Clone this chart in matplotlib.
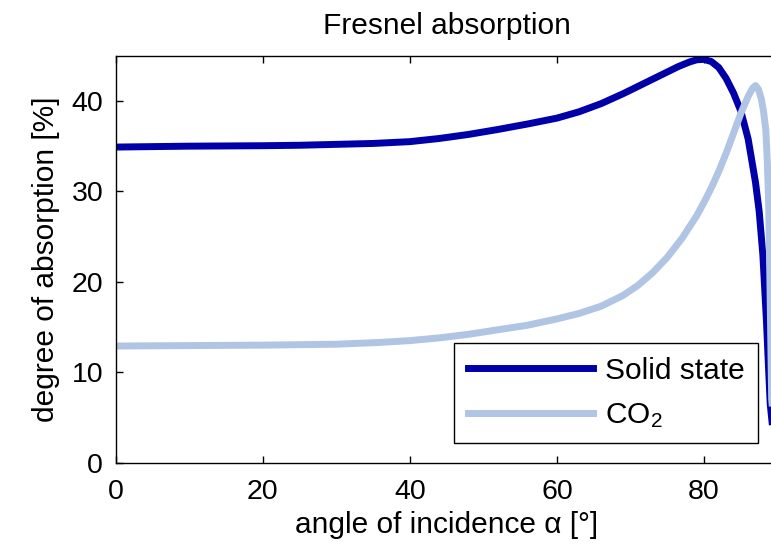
"""Fresnel absorption vs. angle of incidence for solid state and CO2 lasers."""

import matplotlib

matplotlib.use("Agg")  # headless
import matplotlib.pyplot as plt

plt.rcParams["font.family"] = ["Liberation Sans", "DejaVu Sans"]
plt.rcParams["mathtext.fontset"] = "custom"
plt.rcParams["mathtext.rm"] = "Liberation Sans"
plt.rcParams["mathtext.it"] = "Liberation Sans:italic"

# values
solid_angle = [0, 10, 20, 25, 30, 35, 40, 44, 48, 52, 56, 60, 63, 66, 69, 72, 74.5, 76.5,
               78, 79, 80, 81, 82, 83, 84, 85, 86, 87, 87.5, 88, 88.5, 88.8, 89, 89.5, 90]
solid_abs = [34.9, 35.0, 35.05, 35.1, 35.2, 35.3, 35.5, 35.85, 36.3, 36.85, 37.45, 38.1,
             38.8, 39.7, 40.8, 42.0, 43.0, 43.8, 44.3, 44.55, 44.6, 44.35, 43.7, 42.5,
             40.9, 38.9, 35.8, 31.0, 27.8, 23.0, 15.5, 10.0, 6.5, 2.5, 0.0]

co2_angle = [0, 20, 30, 36, 40, 44, 48, 52, 56, 60, 63, 66, 69, 71, 73, 75, 77, 79, 80,
             81, 82, 83, 84, 85, 86, 86.6, 87, 87.4, 87.8, 88.1, 88.4, 88.6, 88.8, 89,
             89.2, 90]
co2_abs = [12.9, 13.0, 13.1, 13.3, 13.5, 13.8, 14.2, 14.7, 15.2, 15.9, 16.5, 17.3, 18.5,
           19.6, 21.0, 22.7, 24.8, 27.3, 28.8, 30.4, 32.2, 34.2, 36.4, 38.6, 40.5, 41.4,
           41.7, 41.3, 40.2, 38.8, 36.8, 33.5, 28.5, 18.0, 7.0, 0.0]

x_ticks = [0, 20, 40, 60, 80]
y_ticks = [0, 10, 20, 30, 40]

DARK = "#0000A8"
LIGHT = "#B0C4E3"

fig = plt.figure(figsize=(7.71, 5.49), dpi=100)
# axes runs a little past the right edge, like the cropped original
ax = fig.add_axes([0.1501, 0.1572, 0.8584, 0.7413])

ax.plot(solid_angle, solid_abs, color=DARK, lw=5, label="Solid state")
ax.plot(co2_angle, co2_abs, color=LIGHT, lw=5, label=r"CO$_\mathrm{2}$")

ax.set_xlim(0, 90)
ax.set_ylim(0, 45)
ax.set_xticks(x_ticks)
ax.set_yticks(y_ticks)
ax.tick_params(direction="in", length=5, width=1, top=True, right=True, labelsize=20.5)
ax.tick_params(axis="x", pad=12)
ax.tick_params(axis="y", pad=9)
for sp in ax.spines.values():
    sp.set_linewidth(1)

ax.set_title("Fresnel absorption", fontsize=21.5, pad=16)
ax.set_xlabel("angle of incidence α [°]", fontsize=21.5, labelpad=4)
ax.set_ylabel("degree of absorption [%]", fontsize=21.5, labelpad=8)

leg = ax.legend(loc="lower right", bbox_to_anchor=(0.971, 0.0477), borderaxespad=0,
                fontsize=21.5, handlelength=4.2, handletextpad=0.4, borderpad=0.45,
                labelspacing=0.55, fancybox=False, framealpha=1, edgecolor="black")
leg.get_frame().set_linewidth(1)

fig.savefig("out.png", dpi=100)
plt.close(fig)
